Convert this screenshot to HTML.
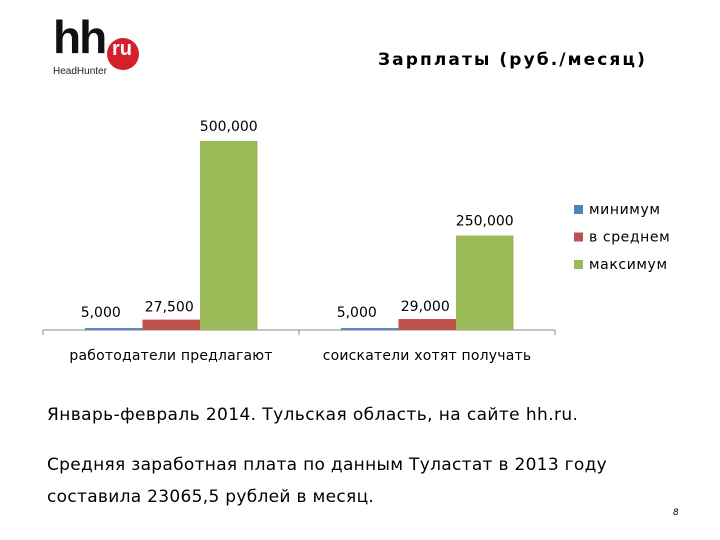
<!DOCTYPE html>
<html><head><meta charset="utf-8"><style>
body{margin:0;width:720px;height:540px;background:#fff;position:relative;overflow:hidden;font-family:"DejaVu Sans","Liberation Sans",sans-serif;}
.t{position:absolute;white-space:nowrap;color:#000}
</style></head><body>
<div style="position:absolute;left:53px;top:24px;width:95px;height:56px">
  <div class="t" style="left:0;top:-14px;font:bold 46px 'Liberation Sans',sans-serif;letter-spacing:-2px;color:#111">hh</div>
  <div style="position:absolute;left:54px;top:14px;width:32px;height:32px;border-radius:50%;background:#d4202a"></div>
  <div class="t" style="left:59px;top:14px;font:bold 20px 'Liberation Sans',sans-serif;color:#fff">ru</div>
  <div class="t" style="left:0;top:42px;font:10px 'Liberation Sans',sans-serif;color:#222">HeadHunter</div>
</div>
<div class="t" style="left:378px;top:50px;font-weight:bold;font-size:17px;letter-spacing:2.1px">Зарплаты (руб./месяц)</div>
<svg id="c" width="720" height="540" style="position:absolute;left:0;top:0"></svg>
<div class="t" style="left:47px;top:405px;font-size:17px;letter-spacing:0.4px">Январь-февраль 2014. Тульская область, на сайте hh.ru.</div>
<div class="t" style="left:47px;top:455px;font-size:17px;letter-spacing:0.3px">Средняя заработная плата по данным Туластат в 2013 году</div>
<div class="t" style="left:47px;top:487px;font-size:17px;letter-spacing:0.3px">составила 23065,5 рублей в месяц.</div>
<div class="t" style="left:673px;top:508px;font-size:9px;font-style:italic">8</div>
<script>
const categories=["работодатели предлагают","соискатели хотят получать"];
const seriesNames=["минимум","в среднем","максимум"];
const minimum=[5000,5000];
const average=[27500,29000];
const maximum=[500000,250000];
const valueLabels=[["5,000","27,500","500,000"],["5,000","29,000","250,000"]];
const colors=["#4f81bd","#c0504d","#9bbb59"];
const svg=document.getElementById('c');
const NS="http://www.w3.org/2000/svg";
const x0=43,x1=555,y0=330,yTop=141,vMax=500000;
const y=v=>y0-(v/vMax)*(y0-yTop);
const gw=(x1-x0)/categories.length, bw=57.5;
function mk(t,a){const e=document.createElementNS(NS,t);for(const k in a)e.setAttribute(k,a[k]);svg.appendChild(e);return e;}
const series=[minimum,average,maximum];
const ax=mk('line',{x1:x0,x2:x1,y1:y0,y2:y0,stroke:'#888','stroke-width':1});


for(let i=0;i<=categories.length;i++){const tk=mk('line',{x1:x0+i*gw,x2:x0+i*gw,y1:y0,y2:y0+5,stroke:'#888'});

}
categories.forEach((c,i)=>{
  const gx=x0+i*gw+42;
  series.forEach((s,j)=>{
    const bx=gx+j*bw, by=y(s[i]);
    const r=mk('rect',{x:bx,y:by,width:bw,height:Math.max(y0-by,2),fill:colors[j]});
    
    
    const off=j===0?-8:(j===1?-2:0);
    const tx=mk('text',{x:bx+bw/2+off+(j===0?-5:0),y:by-(j===2?10:8)+(j===0?-3:0),'text-anchor':'middle','font-size':14,'font-family':'DejaVu Sans, sans-serif'});
    tx.textContent=valueLabels[i][j];
    
    
  });
  const cl=mk('text',{x:x0+i*gw+gw/2,y:360,'text-anchor':'middle','font-size':14,'letter-spacing':0.2,'font-family':'DejaVu Sans, sans-serif'});
  cl.textContent=c;
  
  
});
seriesNames.forEach((n,j)=>{
  const ly=210+j*27.5;
  const r=mk('rect',{x:574,y:ly-5,width:9,height:9,fill:colors[j]});
  
  
  const t=mk('text',{x:589,y:ly+4,'font-size':14,'letter-spacing':0.6,'font-family':'DejaVu Sans, sans-serif'});
  t.textContent=n;
  
  
});
</script>
</body></html>
